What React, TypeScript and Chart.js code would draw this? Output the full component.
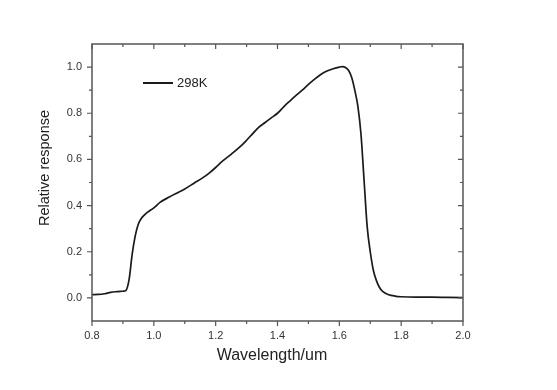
import React, { useEffect, useRef } from "react";
import { Chart, registerables } from "chart.js";

Chart.register(...registerables);

const wavelength = [
  0.80, 0.82, 0.84, 0.86, 0.88, 0.90, 0.91, 0.92, 0.93, 0.94, 0.95, 0.96, 0.97, 0.98,
  1.00, 1.02, 1.05, 1.08, 1.10, 1.13, 1.16, 1.18, 1.20, 1.22, 1.25, 1.28, 1.30, 1.32,
  1.34, 1.36, 1.38, 1.40, 1.42, 1.44, 1.46, 1.48, 1.50, 1.52, 1.54, 1.56, 1.58, 1.60,
  1.61, 1.62, 1.63, 1.64, 1.65, 1.66, 1.67, 1.68, 1.69, 1.70, 1.71, 1.72, 1.73, 1.74,
  1.76, 1.78, 1.80, 1.85, 1.90, 1.95, 2.00,
];
const response298K = [
  0.014, 0.015, 0.018, 0.024, 0.027, 0.029, 0.033, 0.08, 0.19, 0.27, 0.32, 0.345, 0.36, 0.372,
  0.39, 0.414, 0.437, 0.458, 0.472, 0.497, 0.522, 0.542, 0.565, 0.59, 0.622, 0.656, 0.683, 0.712,
  0.74, 0.76, 0.78, 0.80, 0.828, 0.853, 0.877, 0.90, 0.925, 0.948, 0.968, 0.983, 0.993, 1.0,
  1.002, 0.998, 0.985, 0.955, 0.90, 0.83, 0.71, 0.51, 0.31, 0.20, 0.12, 0.075, 0.045, 0.028,
  0.014, 0.008, 0.005, 0.003, 0.003, 0.002, 0.001,
];
const seriesLabel = "298K";
const xMajorTicks = [0.8, 1.0, 1.2, 1.4, 1.6, 1.8, 2.0];
const xMinorTicks = [0.9, 1.1, 1.3, 1.5, 1.7, 1.9];
const yMajorTicks = [0.0, 0.2, 0.4, 0.6, 0.8, 1.0];
const yMinorTicks = [0.1, 0.3, 0.5, 0.7, 0.9];
const xTitle = "Wavelength/um";
const yTitle = "Relative response";

const FONT = "'Liberation Sans', Arial, sans-serif";

const framePlugin = {
  id: "framePlugin",
  afterDraw(chart: any) {
    const { ctx, chartArea } = chart;
    const { left, right, top, bottom } = chartArea;
    const xs = chart.scales.x;
    const ys = chart.scales.y;
    ctx.save();
    ctx.strokeStyle = "#555";
    ctx.lineWidth = 1.5;
    ctx.strokeRect(left, top, right - left, bottom - top);
    ctx.lineWidth = 1.2;
    const drawX = (vals: number[], len: number) => {
      vals.forEach((v) => {
        const px = xs.getPixelForValue(v);
        ctx.beginPath();
        ctx.moveTo(px, bottom);
        ctx.lineTo(px, bottom + len);
        ctx.moveTo(px, top);
        ctx.lineTo(px, top + len);
        ctx.stroke();
      });
    };
    const drawY = (vals: number[], len: number) => {
      vals.forEach((v) => {
        const py = ys.getPixelForValue(v);
        ctx.beginPath();
        ctx.moveTo(left, py);
        ctx.lineTo(left - len, py);
        ctx.moveTo(right, py);
        ctx.lineTo(right - len, py);
        ctx.stroke();
      });
    };
    drawX(xMajorTicks, 5);
    drawX(xMinorTicks, 3);
    drawY(yMajorTicks, 5);
    drawY(yMinorTicks, 3);

    // axis titles
    ctx.fillStyle = "#222";
    ctx.font = `16px ${FONT}`;
    ctx.textAlign = "center";
    ctx.textBaseline = "alphabetic";
    ctx.fillText(xTitle, 272, 360);
    ctx.save();
    ctx.translate(49, 168);
    ctx.rotate(-Math.PI / 2);
    ctx.font = `14.5px ${FONT}`;
    ctx.fillText(yTitle, 0, 0);
    ctx.restore();

    // legend
    const ds = chart.data.datasets[0];
    ctx.strokeStyle = ds.borderColor;
    ctx.lineWidth = 2;
    ctx.beginPath();
    ctx.moveTo(143, 83);
    ctx.lineTo(173, 83);
    ctx.stroke();
    ctx.fillStyle = "#222";
    ctx.font = `13px ${FONT}`;
    ctx.textAlign = "left";
    ctx.textBaseline = "middle";
    ctx.fillText(ds.label, 177, 83.5);
    ctx.restore();
  },
};

export default function App() {
  const ref = useRef<HTMLCanvasElement>(null);
  useEffect(() => {
    document.body.style.margin = "0";
    const points = wavelength.map((x, i) => ({ x, y: response298K[i] }));
    const chart = new Chart(ref.current as HTMLCanvasElement, {
      type: "line",
      data: {
        datasets: [
          {
            label: seriesLabel,
            data: points,
            borderColor: "#1a1a1a",
            borderWidth: 1.7,
            pointRadius: 0,
            fill: false,
            cubicInterpolationMode: "monotone",
          },
        ],
      },
      options: {
        animation: false,
        responsive: true,
        maintainAspectRatio: false,
        layout: { padding: { left: 0, right: 94, top: 44, bottom: 0 } },
        plugins: { legend: { display: false }, tooltip: { enabled: false } },
        scales: {
          x: {
            type: "linear",
            min: 0.8,
            max: 2.0,
            grid: { display: false, drawTicks: false },
            border: { display: false },
            afterBuildTicks: (s: any) => {
              s.ticks = xMajorTicks.map((v) => ({ value: v }));
            },
            afterFit: (s: any) => {
              s.height = 69;
            },
            ticks: {
              padding: 8,
              maxRotation: 0,
              autoSkip: false,
              color: "#333",
              font: { family: FONT, size: 11 },
              callback: (v: any) => Number(v).toFixed(1),
            },
          },
          y: {
            type: "linear",
            min: -0.1,
            max: 1.1,
            grid: { display: false, drawTicks: false },
            border: { display: false },
            afterBuildTicks: (s: any) => {
              s.ticks = yMajorTicks.map((v) => ({ value: v }));
            },
            afterFit: (s: any) => {
              s.width = 92;
            },
            ticks: {
              padding: 10,
              autoSkip: false,
              color: "#333",
              font: { family: FONT, size: 11 },
              callback: (v: any) => Number(v).toFixed(1),
            },
          },
        },
      },
      plugins: [framePlugin],
    });
    return () => chart.destroy();
  }, []);
  return (
    <div style={{ width: 557, height: 390, position: "relative" }}>
      <canvas ref={ref} />
    </div>
  );
}
